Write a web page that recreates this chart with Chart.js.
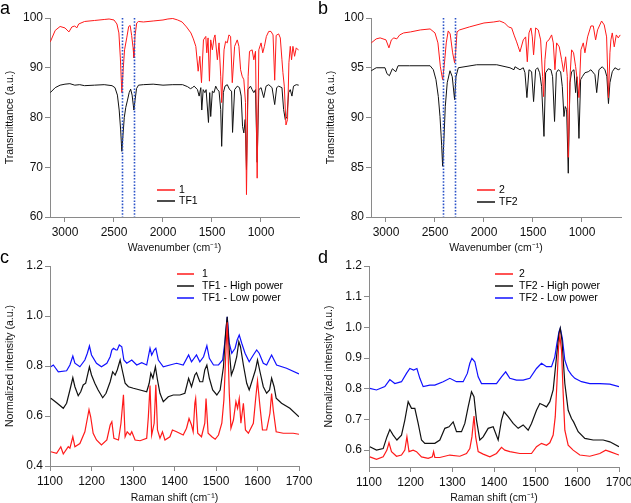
<!DOCTYPE html>
<html><head><meta charset="utf-8">
<script src="https://cdn.jsdelivr.net/npm/chart.js@4.4.1/dist/chart.umd.min.js"></script>
<style>
html,body{margin:0;padding:0;background:#fff;}
#wrap{position:relative;width:631px;height:503px;overflow:hidden;background:#fff;}
canvas{position:absolute;left:0;top:0;}
.lbl{position:absolute;font-family:"Liberation Sans",Arial,sans-serif;font-size:18px;color:#000;line-height:18px;}
</style></head><body>
<div id="wrap">
<canvas id="ca" width="631" height="503"></canvas>
<canvas id="cb" width="631" height="503"></canvas>
<canvas id="cc" width="631" height="503"></canvas>
<canvas id="cd" width="631" height="503"></canvas>
<div class="lbl" style="left:0px;top:-1px">a</div>
<div class="lbl" style="left:318px;top:-1px">b</div>
<div class="lbl" style="left:0px;top:248px">c</div>
<div class="lbl" style="left:318px;top:248px">d</div>
</div>
<script>
// ---------- Panel a : FTIR, compound 1 and TF1 ----------
const wnA1 = [3150,3100,3050,3000,2960,2930,2900,2880,2860,2800,2700,2600,2550,2500,2470,2450,2435,2420,2405,2392,2370,2350,2335,2320,2305,2297,2285,2268,2250,2200,2100,2000,1950,1900,1850,1805,1760,1715,1690,1665,1641,1624,1607,1587,1563,1553,1540,1526,1513,1496,1479,1469,1445,1428,1411,1401,1377,1361,1344,1327,1310,1293,1269,1242,1225,1208,1192,1175,1158,1148,1131,1117,1090,1073,1056,1039,1022,999,982,965,945,921,898,877,860,845,820,803,786,776,762,745,729,715,701,688,674,657,640,615];
const tA1  = [95.2,97.5,98.3,98.0,97.2,98.2,98.4,98.0,98.8,99.3,99.5,99.7,99.8,99.6,98.8,97.0,92.0,85.0,90.0,93.6,96.0,98.3,98.5,96.5,94.0,92.0,96.5,99.0,99.3,99.2,99.4,99.6,99.8,99.9,99.6,99.2,98.2,97.0,95.8,94.3,89.3,92.3,87.0,95.6,96.3,93.0,96.0,87.3,95.6,93.6,96.0,96.6,91.6,95.0,88.3,83.0,93.6,95.3,95.0,96.6,96.3,87.0,94.3,95.6,94.3,89.6,88.3,87.6,83.0,64.5,88.3,93.3,93.6,91.6,93.3,67.8,93.6,95.0,93.0,94.3,96.3,97.3,97.3,96.6,87.5,96.5,96.8,96.0,91.6,89.0,86.3,78.5,79.6,91.0,94.3,91.6,94.3,92.3,94.0,93.5];
const wnATF1 = [3150,3100,3050,3000,2950,2900,2850,2800,2700,2600,2520,2490,2465,2447,2432,2420,2408,2395,2380,2362,2345,2330,2315,2297,2285,2270,2250,2200,2100,2000,1900,1800,1750,1720,1700,1682,1648,1631,1614,1604,1590,1573,1560,1536,1523,1513,1496,1479,1462,1445,1428,1411,1401,1384,1367,1344,1320,1300,1290,1269,1242,1219,1202,1188,1175,1161,1148,1134,1107,1090,1073,1056,1039,1022,999,972,948,921,887,860,840,820,786,769,752,735,718,701,684,668,640,615];
const tATF1  = [85.0,86.0,86.5,86.7,86.8,86.5,86.6,86.4,86.5,86.6,86.4,86.0,84.5,81.5,77.5,73.2,76.5,80.0,82.0,83.5,85.0,85.7,84.5,81.5,83.5,85.8,86.5,86.6,86.7,86.5,86.6,86.6,86.2,85.8,86.0,86.3,85.6,84.3,86.0,81.5,85.6,85.0,85.6,79.0,85.0,80.2,85.3,85.0,86.3,85.6,85.3,81.6,74.2,85.0,86.3,86.6,85.6,85.3,77.0,85.6,86.3,86.0,84.3,78.2,76.9,79.6,69.5,85.6,86.3,85.6,85.0,85.6,71.0,85.6,86.0,84.0,86.3,86.6,86.0,82.6,86.0,86.3,86.0,81.6,79.6,80.2,85.0,85.6,84.3,86.3,86.6,86.5];

// ---------- Panel b : FTIR, compound 2 and TF2 ----------
const wnB2 = [3150,3100,3060,3000,2970,2945,2920,2890,2860,2820,2750,2650,2550,2500,2470,2445,2422,2405,2385,2365,2345,2320,2300,2290,2275,2250,2150,2000,1900,1840,1790,1750,1718,1690,1667,1650,1633,1599,1575,1558,1541,1521,1507,1494,1473,1446,1422,1402,1392,1378,1361,1337,1310,1293,1276,1259,1232,1208,1188,1167,1150,1140,1120,1106,1086,1065,1045,1031,1011,987,970,943,909,885,861,841,800,773,749,730,715,705,691,671,650,630,610];
const tB2  = [97.5,97.9,98.0,97.8,97.0,97.8,98.0,97.9,98.3,98.5,98.6,98.8,98.9,98.5,97.5,95.1,93.8,95.3,97.5,98.7,98.4,96.5,95.5,96.5,98.6,98.8,99.1,99.5,99.6,99.7,99.5,99.1,99.0,98.2,97.6,97.1,96.6,97.8,98.1,95.6,98.5,99.0,98.1,96.3,99.0,98.8,97.8,94.1,92.1,95.8,97.6,97.8,98.3,97.5,94.8,97.5,97.1,95.8,94.6,96.1,94.1,86.0,94.5,96.8,96.5,95.1,93.5,92.0,96.8,97.5,96.5,98.1,99.2,99.2,97.8,98.8,99.7,99.3,98.1,92.0,96.5,97.8,98.5,97.1,98.3,98.0,98.3];
const wnBTF2 = [3150,3100,3010,2990,2965,2935,2900,2877,2760,2550,2517,2490,2466,2449,2432,2422,2409,2395,2375,2347,2324,2300,2286,2262,2075,1870,1735,1694,1684,1633,1599,1582,1562,1541,1514,1494,1473,1453,1432,1412,1388,1371,1344,1317,1300,1280,1262,1242,1218,1201,1184,1171,1157,1140,1123,1106,1082,1065,1052,1031,1014,997,970,936,909,868,850,827,793,766,746,730,715,691,664,630,610];
const tBTF2  = [94.7,95.0,95.0,94.4,94.2,94.9,94.6,95.2,95.2,95.2,94.8,93.8,92.1,90.1,87.2,85.1,87.8,91.1,93.5,94.7,94.1,91.8,94.1,95.0,95.3,95.3,95.0,94.8,95.1,94.8,95.0,94.5,92.0,94.8,94.6,91.6,94.8,95.0,94.5,93.1,88.1,94.5,94.9,94.8,94.1,89.6,94.5,94.8,94.6,93.1,90.1,91.1,90.8,84.4,93.5,94.6,94.8,92.5,94.1,87.9,93.8,94.1,94.5,94.6,94.8,94.3,92.5,94.8,95.1,94.8,94.1,91.4,93.5,94.6,95.0,94.8,94.9];

const irXTicks = [3000,2500,2000,1500,1000];
const irYTicksA = [60,70,80,90,100];
const irYTicksB = [80,85,90,95,100];
const markerWn = [2422,2298];

// ---------- Panel c : Raman, compound 1 and TF1 ----------
const rsC1 = [1102,1116,1126,1132,1144,1148,1155,1160,1172,1184,1190,1194,1198,1204,1212,1224,1237,1245,1249,1254,1265,1271,1277,1281,1286,1293,1297,1305,1317,1333,1337,1341,1345,1351,1355,1359,1365,1371,1377,1389,1395,1405,1421,1429,1435,1441,1445,1449,1451,1456,1465,1473,1476,1481,1490,1498,1506,1514,1519,1524,1527,1532,1536,1542,1548,1552,1556,1560,1564,1566,1571,1578,1590,1596,1600,1606,1612,1622,1630,1634,1638,1645,1662,1686,1700];
const iC1  = [0.457,0.451,0.477,0.448,0.477,0.471,0.517,0.477,0.490,0.537,0.590,0.625,0.597,0.531,0.504,0.484,0.504,0.564,0.577,0.511,0.504,0.571,0.685,0.517,0.537,0.524,0.537,0.504,0.501,0.511,0.597,0.722,0.524,0.571,0.725,0.544,0.511,0.537,0.504,0.517,0.544,0.537,0.524,0.551,0.590,0.564,0.537,0.651,0.670,0.531,0.517,0.571,0.670,0.531,0.517,0.507,0.524,0.571,0.664,0.864,0.975,0.691,0.551,0.584,0.657,0.631,0.670,0.571,0.624,0.651,0.544,0.531,0.571,0.677,0.740,0.637,0.544,0.544,0.611,0.690,0.624,0.537,0.531,0.531,0.527];
const rsCH = [1102,1116,1132,1140,1148,1155,1160,1168,1174,1180,1186,1195,1200,1208,1216,1227,1235,1245,1251,1257,1262,1269,1274,1281,1289,1301,1317,1333,1339,1343,1348,1354,1359,1365,1373,1385,1397,1413,1425,1434,1441,1449,1453,1461,1468,1473,1478,1484,1492,1502,1510,1518,1523,1527,1532,1537,1543,1550,1555,1559,1566,1574,1580,1590,1595,1600,1606,1614,1622,1629,1634,1640,1645,1658,1678,1700];
const iCH  = [0.671,0.653,0.631,0.651,0.704,0.753,0.717,0.681,0.697,0.724,0.731,0.797,0.764,0.731,0.704,0.673,0.691,0.737,0.777,0.764,0.784,0.824,0.784,0.731,0.717,0.711,0.704,0.697,0.731,0.771,0.751,0.797,0.744,0.691,0.657,0.677,0.684,0.684,0.691,0.751,0.717,0.764,0.773,0.737,0.737,0.784,0.804,0.751,0.704,0.684,0.704,0.797,0.931,0.997,0.864,0.764,0.791,0.837,0.897,0.877,0.804,0.731,0.704,0.757,0.784,0.824,0.777,0.717,0.691,0.704,0.751,0.717,0.671,0.651,0.631,0.597];
const rsCL = [1102,1108,1120,1140,1148,1155,1160,1172,1184,1190,1195,1200,1212,1224,1237,1245,1249,1253,1259,1262,1267,1273,1278,1285,1297,1309,1321,1333,1341,1345,1351,1355,1361,1373,1389,1405,1421,1434,1441,1453,1461,1470,1478,1484,1494,1506,1516,1522,1527,1532,1538,1546,1551,1556,1562,1570,1580,1590,1598,1604,1614,1622,1630,1634,1640,1646,1670,1700];
const iCL  = [0.797,0.804,0.777,0.781,0.804,0.840,0.811,0.797,0.824,0.851,0.880,0.844,0.811,0.797,0.811,0.837,0.864,0.871,0.864,0.864,0.884,0.877,0.824,0.811,0.824,0.804,0.813,0.804,0.871,0.844,0.864,0.871,0.824,0.797,0.804,0.811,0.804,0.844,0.817,0.844,0.817,0.837,0.881,0.831,0.804,0.804,0.824,0.904,0.997,0.891,0.851,0.871,0.904,0.924,0.891,0.851,0.817,0.844,0.864,0.851,0.811,0.804,0.831,0.844,0.824,0.804,0.791,0.768];

// ---------- Panel d : Raman, compound 2 and TF2 ----------
const rsD2 = [1102,1118,1134,1143,1148,1154,1166,1178,1186,1191,1196,1206,1214,1226,1242,1252,1255,1258,1270,1294,1318,1334,1342,1347,1352,1356,1362,1374,1390,1406,1418,1426,1438,1462,1490,1502,1514,1526,1534,1542,1547,1551,1555,1558,1562,1566,1570,1578,1590,1606,1630,1654,1668,1678,1700];
const iD2  = [0.578,0.570,0.578,0.600,0.624,0.595,0.580,0.584,0.600,0.643,0.595,0.600,0.595,0.578,0.573,0.578,0.595,0.576,0.576,0.584,0.580,0.589,0.605,0.643,0.711,0.643,0.595,0.587,0.578,0.589,0.609,0.600,0.595,0.589,0.589,0.611,0.622,0.616,0.624,0.649,0.709,0.817,0.937,0.972,0.926,0.785,0.665,0.616,0.600,0.584,0.580,0.589,0.600,0.595,0.584];
const rsDH = [1102,1118,1134,1143,1150,1158,1167,1178,1186,1194,1202,1210,1218,1226,1234,1246,1258,1270,1282,1292,1302,1310,1322,1330,1338,1346,1352,1358,1366,1374,1386,1398,1410,1418,1424,1434,1446,1458,1470,1482,1490,1502,1510,1518,1526,1534,1542,1550,1556,1559,1563,1570,1578,1586,1591,1602,1618,1638,1662,1678,1700];
const iDH  = [0.611,0.600,0.605,0.643,0.667,0.649,0.633,0.649,0.698,0.758,0.736,0.736,0.687,0.633,0.622,0.622,0.622,0.633,0.671,0.676,0.692,0.660,0.660,0.687,0.741,0.790,0.774,0.698,0.633,0.643,0.671,0.676,0.633,0.698,0.725,0.709,0.687,0.671,0.682,0.665,0.687,0.730,0.752,0.747,0.741,0.758,0.796,0.904,0.980,0.997,0.959,0.817,0.730,0.703,0.692,0.660,0.638,0.633,0.633,0.627,0.611];
const rsDL = [1102,1118,1138,1150,1162,1178,1190,1198,1207,1215,1222,1230,1246,1258,1278,1294,1310,1326,1336,1342,1347,1354,1362,1370,1386,1406,1418,1428,1438,1454,1470,1486,1502,1514,1526,1538,1546,1551,1556,1559,1564,1570,1578,1586,1594,1610,1630,1654,1678,1700];
const iDL  = [0.801,0.796,0.807,0.830,0.817,0.823,0.850,0.866,0.861,0.866,0.834,0.807,0.812,0.812,0.823,0.834,0.823,0.823,0.850,0.883,0.899,0.888,0.839,0.817,0.817,0.817,0.839,0.855,0.834,0.828,0.828,0.834,0.866,0.883,0.872,0.872,0.904,0.948,0.986,0.997,0.964,0.893,0.861,0.845,0.834,0.823,0.817,0.817,0.815,0.807];

const ramanXTicks = [1100,1200,1300,1400,1500,1600,1700];
const ramanYTicksC = [0.4,0.6,0.8,1.0,1.2];
const ramanYTicksD = [0.6,0.7,0.8,0.9,1.0,1.1,1.2];

// ---------- drawing ----------
const FONT = '"Liberation Sans", Arial, sans-serif';
const AXC = '#8a8a8a';
const RED = '#ff1a1a', BLK = '#111111', BLU = '#1010ff';
const Y_W = 50, X_H = 40;

const legendPlugin = {
  id: 'miniLegend',
  afterDraw(chart, args, o) {
    if (!o || !o.show) return;
    const {ctx, chartArea: a} = chart;
    ctx.save();
    ctx.font = '10.5px ' + FONT;
    ctx.textBaseline = 'middle';
    chart.data.datasets.forEach((d, i) => {
      const y = a.top + o.dy + i * o.rowH;
      ctx.strokeStyle = d.borderColor;
      ctx.lineWidth = 1.5;
      ctx.beginPath();
      ctx.moveTo(a.left + o.dx, y);
      ctx.lineTo(a.left + o.dx + o.len, y);
      ctx.stroke();
      ctx.fillStyle = '#000';
      ctx.fillText(d.label, a.left + o.dx + o.len + o.gap, y);
    });
    ctx.restore();
  }
};
const markerPlugin = {
  id: 'markers',
  afterDatasetsDraw(chart, args, o) {
    if (!o || !o.values) return;
    const {ctx, chartArea: a, scales: {x}} = chart;
    ctx.save();
    ctx.strokeStyle = '#2a52c8';
    ctx.lineWidth = 1.6;
    ctx.setLineDash([1.6, 1.6]);
    o.values.forEach(v => {
      const px = Math.round(x.getPixelForValue(v)) + 0.5;
      ctx.beginPath();
      ctx.moveTo(px, a.top);
      ctx.lineTo(px, a.bottom);
      ctx.stroke();
    });
    ctx.restore();
  }
};

function makeChart(id, c) {
  const datasets = c.series.map(s => ({
    label: s.label,
    data: s.x.map((v, i) => ({x: v, y: s.y[i]})),
    borderColor: s.color,
    backgroundColor: s.color,
    borderWidth: c.lw || 1,
    pointRadius: 0,
    showLine: true,
    tension: 0,
    fill: false
  }));
  const axisCommon = (ticks, fmt) => ({
    type: 'linear',
    grid: {display: true, drawOnChartArea: false, drawTicks: true, tickLength: 5, color: AXC, tickColor: AXC},
    border: {display: true, color: AXC, width: 1},
    afterBuildTicks: s => { s.ticks = ticks.map(v => ({value: v})); },
    ticks: {font: {family: FONT, size: 12}, color: '#111', padding: 2, callback: fmt}
  });
  const xs = Object.assign(axisCommon(c.xTicks, v => String(v)), {
    min: c.xMin, max: c.xMax, reverse: !!c.reverse,
    afterFit: s => { s.height = X_H; s.paddingLeft = 0; s.paddingRight = 0; },
    title: {display: true, text: c.xTitle, color: '#111', font: {family: FONT, size: 10.5}, padding: {top: 0, bottom: X_H - c.xTitleOff - 6}}
  });
  xs.ticks.padding = 3;
  const ys = Object.assign(axisCommon(c.yTicks, c.yFmt), {
    min: c.yMin, max: c.yMax,
    afterFit: s => { s.width = Y_W; s.paddingTop = 0; s.paddingBottom = 0; },
    title: {display: true, text: c.yTitle, color: '#111', font: {family: FONT, size: 10.5}, padding: {top: 4, bottom: 0}}
  });
  return new Chart(document.getElementById(id), {
    type: 'scatter',
    data: {datasets},
    options: {
      responsive: false,
      animation: false,
      events: [],
      layout: {padding: {left: c.area[0] - Y_W, top: c.area[1], right: 631 - c.area[2], bottom: 503 - c.area[3] - X_H}},
      plugins: {legend: {display: false}, tooltip: {enabled: false}, miniLegend: c.legend, markers: c.markers},
      scales: {x: xs, y: ys}
    },
    plugins: [legendPlugin, markerPlugin]
  });
}

const f0 = v => String(v);
const f1 = v => v.toFixed(1);

makeChart('ca', {
  area: [50, 18, 299, 217],
  xMin: 612, xMax: 3153, reverse: true, xTicks: irXTicks,
  yMin: 60, yMax: 100, yTicks: irYTicksA, yFmt: f0,
  xTitle: 'Wavenumber (cm\u207B\u00B9)', xTitleOff: 31,
  yTitle: 'Transmittance (a.u.)',
  series: [
    {label: '1', x: wnA1, y: tA1, color: RED},
    {label: 'TF1', x: wnATF1, y: tATF1, color: BLK}
  ],
  legend: {show: true, dx: 107, dy: 172, rowH: 11, len: 18, gap: 4},
  markers: {values: markerWn}
});
makeChart('cb', {
  area: [371, 18, 621, 217],
  xMin: 602, xMax: 3153, reverse: true, xTicks: irXTicks,
  yMin: 80, yMax: 100, yTicks: irYTicksB, yFmt: f0,
  xTitle: 'Wavenumber (cm\u207B\u00B9)', xTitleOff: 31,
  yTitle: 'Transmittance (a.u.)',
  series: [
    {label: '2', x: wnB2, y: tB2, color: RED},
    {label: 'TF2', x: wnBTF2, y: tBTF2, color: BLK}
  ],
  legend: {show: true, dx: 106, dy: 172, rowH: 12, len: 18, gap: 4},
  markers: {values: markerWn}
});
makeChart('cc', {
  area: [50, 266, 299, 466], lw: 1.2,
  xMin: 1100, xMax: 1700, xTicks: ramanXTicks,
  yMin: 0.4, yMax: 1.2, yTicks: ramanYTicksC, yFmt: f1,
  xTitle: 'Raman shift (cm\u207B\u00B9)', xTitleOff: 32,
  yTitle: 'Normalized intensity (a.u.)',
  series: [
    {label: '1', x: rsC1, y: iC1, color: RED},
    {label: 'TF1 - High power', x: rsCH, y: iCH, color: BLK},
    {label: 'TF1 - Low power', x: rsCL, y: iCL, color: BLU}
  ],
  legend: {show: true, dx: 127, dy: 8, rowH: 12, len: 17, gap: 8}
});
makeChart('cd', {
  area: [369, 266, 619, 467], lw: 1.2,
  xMin: 1100, xMax: 1700, xTicks: ramanXTicks,
  yMin: 0.545, yMax: 1.2, yTicks: ramanYTicksD, yFmt: f1,
  xTitle: 'Raman shift (cm\u207B\u00B9)', xTitleOff: 31,
  yTitle: 'Normalized intensity (a.u.)',
  series: [
    {label: '2', x: rsD2, y: iD2, color: RED},
    {label: 'TF2 - High power', x: rsDH, y: iDH, color: BLK},
    {label: 'TF2 - Low power', x: rsDL, y: iDL, color: BLU}
  ],
  legend: {show: true, dx: 126, dy: 8, rowH: 12, len: 18, gap: 6}
});
</script>
</body></html>
